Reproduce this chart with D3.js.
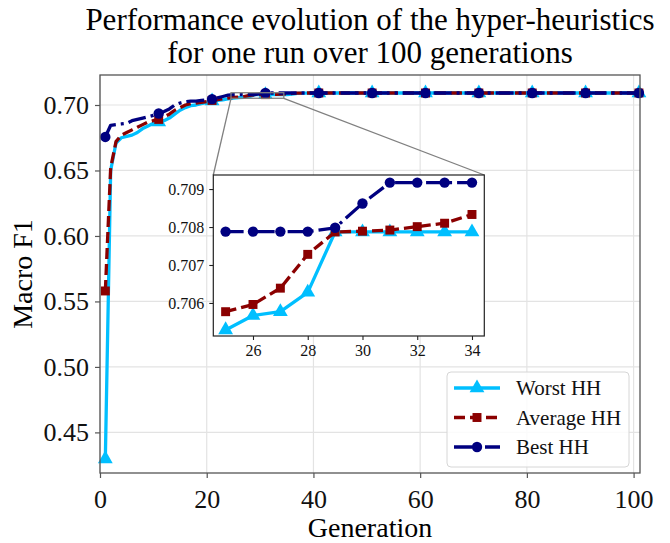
<!DOCTYPE html>
<html>
<head>
<meta charset="utf-8">
<script src="https://cdn.jsdelivr.net/npm/d3@7"></script>
<style>
  body { margin: 0; background: #fff; }
  svg { display: block; font-family: "Liberation Serif", "Times New Roman", serif; }
</style>
</head>
<body>
<main></main>
<script>
const w = 670;
const h = 543;

// generations 1..101
const generations = d3.range(1, 102);

const worstHH = [
  0.4298, 0.650, 0.671, 0.675, 0.676, 0.677, 0.679, 0.682, 0.684, 0.686,
  0.687, 0.688, 0.690, 0.693, 0.696, 0.698, 0.6995, 0.700, 0.701, 0.702,
  0.703, 0.7035, 0.704, 0.7046, 0.70529, 0.70567, 0.70577, 0.70628, 0.70787, 0.70787,
  0.70787, 0.70787, 0.70787, 0.70787, 0.70787, 0.7083, 0.7088, 0.7090, 0.7091, 0.70917,
  0.70917, 0.70917, 0.70917, 0.70917, 0.70917, 0.70917, 0.70917, 0.70917, 0.70917, 0.70917,
  0.70917, 0.70917, 0.70917, 0.70917, 0.70917, 0.70917, 0.70917, 0.70917, 0.70917, 0.70917,
  0.70917, 0.70917, 0.70917, 0.70917, 0.70917, 0.70917, 0.70917, 0.70917, 0.70917, 0.70917,
  0.70917, 0.70917, 0.70917, 0.70917, 0.70917, 0.70917, 0.70917, 0.70917, 0.70917, 0.70917,
  0.70917, 0.70917, 0.70917, 0.70917, 0.70917, 0.70917, 0.70917, 0.70917, 0.70917, 0.70917,
  0.70917, 0.70917, 0.70917, 0.70917, 0.70917, 0.70917, 0.70917, 0.70917, 0.70917, 0.70917,
  0.70917
];

const averageHH = [
  0.5580, 0.652, 0.672, 0.677, 0.679, 0.681, 0.683, 0.685, 0.687, 0.688,
  0.689, 0.691, 0.693, 0.696, 0.698, 0.700, 0.701, 0.7015, 0.702, 0.7025,
  0.7035, 0.704, 0.7048, 0.7053, 0.70577, 0.70596, 0.70639, 0.70728, 0.70787, 0.70789,
  0.70792, 0.70801, 0.70810, 0.70833, 0.7086, 0.7088, 0.7090, 0.7091, 0.70915, 0.70917,
  0.70917, 0.70917, 0.70917, 0.70917, 0.70917, 0.70917, 0.70917, 0.70917, 0.70917, 0.70917,
  0.70917, 0.70917, 0.70917, 0.70917, 0.70917, 0.70917, 0.70917, 0.70917, 0.70917, 0.70917,
  0.70917, 0.70917, 0.70917, 0.70917, 0.70917, 0.70917, 0.70917, 0.70917, 0.70917, 0.70917,
  0.70917, 0.70917, 0.70917, 0.70917, 0.70917, 0.70917, 0.70917, 0.70917, 0.70917, 0.70917,
  0.70917, 0.70917, 0.70917, 0.70917, 0.70917, 0.70917, 0.70917, 0.70917, 0.70917, 0.70917,
  0.70917, 0.70917, 0.70917, 0.70917, 0.70917, 0.70917, 0.70917, 0.70917, 0.70917, 0.70917,
  0.70917
];

const bestHH = [
  0.6756, 0.6845, 0.6850, 0.6855, 0.6860, 0.6880, 0.6890, 0.6900, 0.6910, 0.6920,
  0.6935, 0.6950, 0.6970, 0.7000, 0.7015, 0.7025, 0.7030, 0.7030, 0.7035, 0.7040,
  0.7045, 0.7055, 0.7065, 0.7075, 0.70788, 0.70788, 0.70788, 0.70788, 0.70798, 0.70862,
  0.70917, 0.70917, 0.70917, 0.70917, 0.70917, 0.70917, 0.70917, 0.70917, 0.70917, 0.70917,
  0.70917, 0.70917, 0.70917, 0.70917, 0.70917, 0.70917, 0.70917, 0.70917, 0.70917, 0.70917,
  0.70917, 0.70917, 0.70917, 0.70917, 0.70917, 0.70917, 0.70917, 0.70917, 0.70917, 0.70917,
  0.70917, 0.70917, 0.70917, 0.70917, 0.70917, 0.70917, 0.70917, 0.70917, 0.70917, 0.70917,
  0.70917, 0.70917, 0.70917, 0.70917, 0.70917, 0.70917, 0.70917, 0.70917, 0.70917, 0.70917,
  0.70917, 0.70917, 0.70917, 0.70917, 0.70917, 0.70917, 0.70917, 0.70917, 0.70917, 0.70917,
  0.70917, 0.70917, 0.70917, 0.70917, 0.70917, 0.70917, 0.70917, 0.70917, 0.70917, 0.70917,
  0.70917
];

const seriesNames = ["Worst HH", "Average HH", "Best HH"];
const titleLines = ["Performance evolution of the hyper-heuristics", "for one run over 100 generations"];
const xTicks = [0, 20, 40, 60, 80, 100];
const yTicks = [0.45, 0.50, 0.55, 0.60, 0.65, 0.70];
const insetXTicks = [26, 28, 30, 32, 34];
const insetYTicks = [0.706, 0.707, 0.708, 0.709];
const insetRange = [25, 34];

const styles = [
  { color: "#00bfff", dash: null, symbol: d3.symbolTriangle, size: 95 },
  { color: "#8b0000", dash: "11,5", symbol: d3.symbolSquare, size: 80 },
  { color: "#000080", dash: "18,5,3,5", symbol: d3.symbolCircle, size: 85 }
];

const series = [worstHH, averageHH, bestHH].map((vals, k) => ({
  name: seriesNames[k],
  style: styles[k],
  points: generations.map((g, i) => ({ g: g, v: vals[i] }))
}));

// main plot area
const plotLeft = 100, plotRight = 640, plotTop = 75, plotBottom = 473;

const xScale = d3.scaleLinear().domain([0, 101.2]).range([plotLeft, plotRight]);
const yScale = d3.scaleLinear().domain([0.419, 0.7229]).range([plotBottom, plotTop]);

const svg = d3.select("main")
  .append("svg")
  .attr("width", w)
  .attr("height", h);

// title
svg.selectAll("text.title")
  .data(titleLines)
  .enter()
  .append("text")
  .attr("class", "title")
  .attr("x", 370)
  .attr("y", (d, i) => 30 + i * 33)
  .attr("text-anchor", "middle")
  .style("font-size", "31px")
  .text(d => d);

// grid
svg.append("g")
  .selectAll("line")
  .data(xTicks)
  .enter()
  .append("line")
  .attr("x1", d => xScale(d)).attr("x2", d => xScale(d))
  .attr("y1", plotTop).attr("y2", plotBottom)
  .attr("stroke", "#e3e3e3").attr("stroke-width", 1.2);

svg.append("g")
  .selectAll("line")
  .data(yTicks)
  .enter()
  .append("line")
  .attr("x1", plotLeft).attr("x2", plotRight)
  .attr("y1", d => yScale(d)).attr("y2", d => yScale(d))
  .attr("stroke", "#e3e3e3").attr("stroke-width", 1.2);

const line = d3.line().x(d => xScale(d.g)).y(d => yScale(d.v));

// series lines and markers (every 10th generation)
series.forEach(s => {
  svg.append("path")
    .datum(s.points)
    .attr("d", line)
    .attr("fill", "none")
    .attr("stroke", s.style.color)
    .attr("stroke-width", 3.3)
    .attr("stroke-dasharray", s.style.dash)
    .attr("stroke-linejoin", "round");

  svg.append("g")
    .selectAll("path")
    .data(s.points.filter((d, i) => i % 10 === 0))
    .enter()
    .append("path")
    .attr("transform", d => "translate(" + xScale(d.g) + "," + yScale(d.v) + ")")
    .attr("d", d3.symbol().type(s.style.symbol).size(s.style.size))
    .attr("fill", s.style.color);
});

// axes
const xAxis = d3.axisBottom(xScale).tickValues(xTicks).tickSize(5).tickPadding(12);
const yAxis = d3.axisLeft(yScale).tickValues(yTicks).tickSize(5).tickPadding(6).tickFormat(d3.format(".2f"));

const gx = svg.append("g")
  .attr("transform", "translate(0," + plotBottom + ")")
  .attr("id", "x-axis")
  .call(xAxis);
const gy = svg.append("g")
  .attr("transform", "translate(" + plotLeft + ",0)")
  .attr("id", "y-axis")
  .call(yAxis);

[gx, gy].forEach(g => {
  g.select(".domain").remove();
  g.selectAll(".tick line").attr("stroke", "#555").attr("stroke-width", 1.2);
  g.selectAll(".tick text")
    .attr("fill", "#111")
    .style("font-size", "26px")
    .style("font-family", "'Liberation Serif', serif");
});

svg.append("rect")
  .attr("x", plotLeft).attr("y", plotTop)
  .attr("width", plotRight - plotLeft).attr("height", plotBottom - plotTop)
  .attr("fill", "none")
  .attr("stroke", "#555")
  .attr("stroke-width", 1.3);

svg.append("text")
  .attr("x", 370).attr("y", 537)
  .attr("text-anchor", "middle")
  .style("font-size", "28px")
  .text("Generation");

svg.append("text")
  .attr("transform", "translate(32,274) rotate(-90)")
  .attr("text-anchor", "middle")
  .style("font-size", "28px")
  .text("Macro F1");

// inset
const ix0 = 213.3, ix1 = 484.3, iy0 = 175, iy1 = 336;
const insetX = d3.scaleLinear().domain([24.55, 34.45]).range([ix0, ix1]);
const insetY = d3.scaleLinear().domain([0.70513, 0.70937]).range([iy1, iy0]);

// zoom indicator on main axes
const rx0 = xScale(24.55), rx1 = xScale(34.45);
const ry0 = yScale(0.70937), ry1 = yScale(0.70513);

svg.append("rect")
  .attr("x", rx0).attr("y", ry0)
  .attr("width", rx1 - rx0).attr("height", ry1 - ry0)
  .attr("fill", "none")
  .attr("stroke", "#808080")
  .attr("stroke-width", 1.3);

svg.append("line")
  .attr("x1", rx0).attr("y1", ry1).attr("x2", ix0).attr("y2", iy0)
  .attr("stroke", "#808080").attr("stroke-width", 1.3);
svg.append("line")
  .attr("x1", rx1).attr("y1", ry1).attr("x2", ix1).attr("y2", iy0)
  .attr("stroke", "#808080").attr("stroke-width", 1.3);

const inset = svg.append("g").attr("id", "inset");

inset.append("rect")
  .attr("x", ix0).attr("y", iy0)
  .attr("width", ix1 - ix0).attr("height", iy1 - iy0)
  .attr("fill", "#fff");

const insetLine = d3.line().x(d => insetX(d.g)).y(d => insetY(d.v));

series.forEach(s => {
  const pts = s.points.filter(d => d.g >= insetRange[0] && d.g <= insetRange[1]);
  inset.append("path")
    .datum(pts)
    .attr("d", insetLine)
    .attr("fill", "none")
    .attr("stroke", s.style.color)
    .attr("stroke-width", 3.3)
    .attr("stroke-dasharray", s.style.dash)
    .attr("stroke-linejoin", "round");

  inset.append("g")
    .selectAll("path")
    .data(pts)
    .enter()
    .append("path")
    .attr("transform", d => "translate(" + insetX(d.g) + "," + insetY(d.v) + ")")
    .attr("d", d3.symbol().type(s.style.symbol).size(s.style.size))
    .attr("fill", s.style.color);
});

const igx = inset.append("g")
  .attr("transform", "translate(0," + iy1 + ")")
  .call(d3.axisBottom(insetX).tickValues(insetXTicks).tickSize(4).tickPadding(5));
const igy = inset.append("g")
  .attr("transform", "translate(" + ix0 + ",0)")
  .call(d3.axisLeft(insetY).tickValues(insetYTicks).tickSize(4).tickPadding(5).tickFormat(d3.format(".3f")));

[igx, igy].forEach(g => {
  g.select(".domain").remove();
  g.selectAll(".tick line").attr("stroke", "#222").attr("stroke-width", 1.1);
  g.selectAll(".tick text")
    .attr("fill", "#111")
    .style("font-size", "16px")
    .style("font-family", "'Liberation Serif', serif");
});

inset.append("rect")
  .attr("x", ix0).attr("y", iy0)
  .attr("width", ix1 - ix0).attr("height", iy1 - iy0)
  .attr("fill", "none")
  .attr("stroke", "#222")
  .attr("stroke-width", 1.2);

// legend
const legend = svg.append("g").attr("id", "legend");
legend.append("rect")
  .attr("x", 447).attr("y", 372)
  .attr("width", 182).attr("height", 95)
  .attr("rx", 4)
  .attr("fill", "#fff")
  .attr("fill-opacity", 0.85)
  .attr("stroke", "#d6d6d6")
  .attr("stroke-width", 1);

series.forEach((s, i) => {
  const ly = 388 + i * 29.5;
  legend.append("line")
    .attr("x1", 454).attr("x2", 500)
    .attr("y1", ly).attr("y2", ly)
    .attr("stroke", s.style.color)
    .attr("stroke-width", 3.3)
    .attr("stroke-dasharray", s.style.dash);
  legend.append("path")
    .attr("transform", "translate(477," + ly + ")")
    .attr("d", d3.symbol().type(s.style.symbol).size(s.style.size))
    .attr("fill", s.style.color);
  legend.append("text")
    .attr("x", 516).attr("y", ly + 7)
    .style("font-size", "21px")
    .attr("fill", "#111")
    .text(s.name);
});
</script>
</body>
</html>
